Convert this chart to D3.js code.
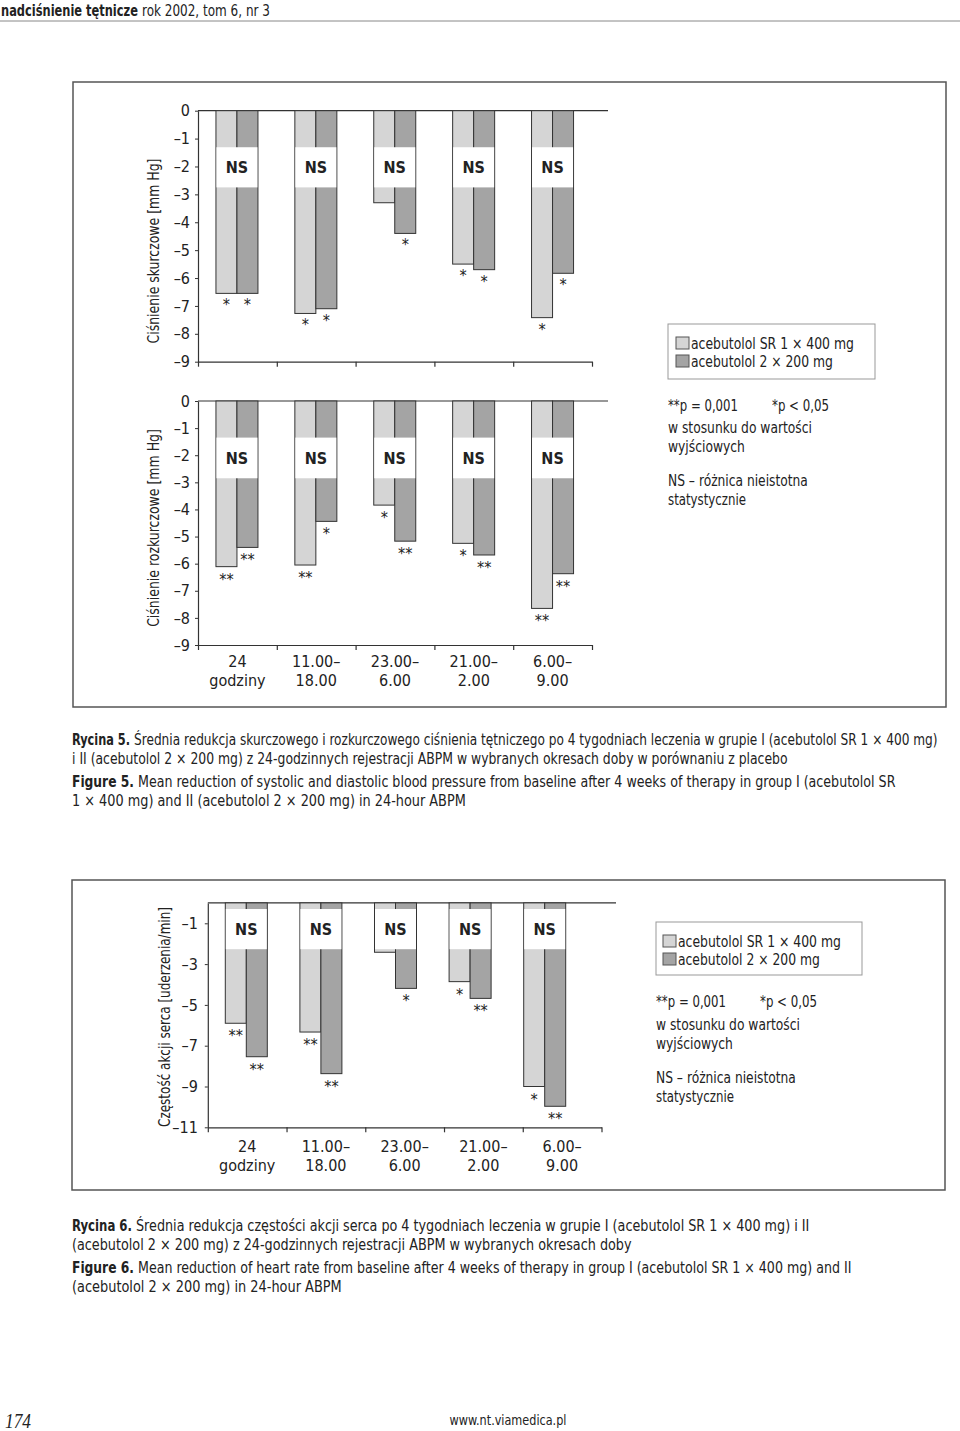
<!DOCTYPE html>
<html>
<head>
<meta charset="utf-8">
<script src="https://cdn.jsdelivr.net/npm/d3@7"></script>
<style>
  body { margin: 0; background: #fff; }
  svg text { font-family: 'Liberation Sans Narrow', 'DejaVu Sans Condensed', 'Liberation Sans', sans-serif; fill: #222; }
</style>
</head>
<body>
<div id="page"></div>
<script>
// categories (two lines each) and series
var categories = [["24", "godziny"], ["11.00–", "18.00"], ["23.00–", "6.00"], ["21.00–", "2.00"], ["6.00–", "9.00"]];
var seriesNames = ["acebutolol SR 1 × 400 mg", "acebutolol 2 × 200 mg"];

// Rycina 5 - skurczowe
var systolicSR = [-6.55, -7.27, -3.3, -5.5, -7.42];
var systolic2x = [-6.55, -7.1, -4.4, -5.7, -5.83];
var systolicSigSR = ["*", "*", "", "*", "*"];
var systolicSig2x = ["*", "*", "*", "*", "*"];

// Rycina 5 - rozkurczowe
var diastolicSR = [-6.11, -6.05, -3.84, -5.25, -7.65];
var diastolic2x = [-5.4, -4.44, -5.17, -5.68, -6.37];
var diastolicSigSR = ["**", "**", "*", "*", "**"];
var diastolicSig2x = ["**", "*", "**", "**", "**"];

// Rycina 6 - czestosc akcji serca
var heartSR = [-5.9, -6.33, -2.42, -3.86, -9.0];
var heart2x = [-7.54, -8.37, -4.19, -4.68, -9.97];
var heartSigSR = ["**", "**", "", "*", "*"];
var heartSig2x = ["**", "**", "*", "**", "**"];

var bpTicks = [0, -1, -2, -3, -4, -5, -6, -7, -8, -9];
var hrTicks = [-1, -3, -5, -7, -9, -11];

var colors = ["#d5d5d5", "#a4a4a4"];

var svg = d3.select("#page").append("svg").attr("width", 960).attr("height", 1431);

// squeeze a text horizontally to a given width (the print font is condensed)
function squeeze(t, x, y, width, extra) {
  t.attr("x", 0).attr("y", 0);
  var w = t.node().getComputedTextLength();
  t.attr("transform", "translate(" + x + "," + y + ")" + (extra || "") + " scale(" + (width / w) + ",1)");
  return t;
}

function line(x, y, size, txt, width, bold) {
  var t = svg.append("text").style("font-size", size + "px").text(txt);
  if (bold) t.style("font-weight", "bold");
  return squeeze(t, x, y, width);
}

// bold lead + regular rest
function twoPart(x, yb, size, bold, boldLen, rest, totalLen) {
  var lead = 0;
  if (bold) {
    line(x, yb, size, bold, boldLen, true);
    lead = boldLen + 4;
  }
  line(x + lead, yb, size, rest, totalLen - lead, false);
}

// header
twoPart(1, 16, 16, "nadciśnienie tętnicze", 137, "rok 2002, tom 6, nr 3", 269);
svg.append("line").attr("x1", 0).attr("x2", 960).attr("y1", 21).attr("y2", 21)
  .attr("stroke", "#888").attr("stroke-width", 1);

// frames
svg.append("rect").attr("x", 73).attr("y", 82).attr("width", 873).attr("height", 625)
  .attr("fill", "none").attr("stroke", "#555").attr("stroke-width", 1.5);
svg.append("rect").attr("x", 72).attr("y", 880).attr("width", 873).attr("height", 310)
  .attr("fill", "none").attr("stroke", "#555").attr("stroke-width", 1.5);

function minusFmt(d) { return d === 0 ? "0" : "–" + Math.abs(d); }

function drawPanel(p) {
  var y = d3.scaleLinear().domain(p.yDomain).range(p.yRange);
  var x = d3.scaleBand().domain(d3.range(categories.length)).range(p.barRange);
  var xs = d3.scaleBand().domain([0, 1]).range([x.bandwidth() / 2 - p.barW, x.bandwidth() / 2 + p.barW]);
  var xl = d3.scaleBand().domain(d3.range(categories.length)).range(p.axisRange);
  var g = svg.append("g");

  // zero line across the top
  g.append("line").attr("x1", p.axisRange[0]).attr("x2", p.zeroEnd)
    .attr("y1", y(0)).attr("y2", y(0)).attr("stroke", "#333").attr("stroke-width", 1.2);

  var groups = g.selectAll(".grp").data(d3.range(categories.length)).enter().append("g")
    .attr("transform", function(i) { return "translate(" + x(i) + ",0)"; });

  var rows = function(i) {
    return [{s: 0, v: p.sr[i], sig: p.sigSR[i]}, {s: 1, v: p.x2[i], sig: p.sig2x[i]}];
  };

  groups.selectAll("rect.bar").data(rows).enter().append("rect")
    .attr("class", "bar")
    .attr("x", function(d) { return xs(d.s); })
    .attr("width", xs.bandwidth())
    .attr("y", y(0))
    .attr("height", function(d) { return y(d.v) - y(0); })
    .attr("fill", function(d) { return colors[d.s]; })
    .attr("stroke", "#333").attr("stroke-width", 1);

  // white NS box over the bars
  groups.append("rect")
    .attr("x", xs(0) + 0.5).attr("width", xs.bandwidth() * 2 - 1)
    .attr("y", y(p.nsBox[0])).attr("height", y(p.nsBox[1]) - y(p.nsBox[0]))
    .attr("fill", "#fff");
  groups.append("text").text("NS")
    .attr("x", x.bandwidth() / 2)
    .attr("y", (y(p.nsBox[0]) + y(p.nsBox[1])) / 2)
    .attr("dy", "0.36em")
    .attr("text-anchor", "middle")
    .style("font-weight", "bold").style("font-size", "16px");

  // significance stars
  groups.selectAll("text.sig").data(rows).enter().append("text")
    .attr("class", "sig")
    .attr("x", function(d) { return xs(d.s) + xs.bandwidth() / 2; })
    .attr("y", function(d) { return y(d.v) + p.starDy; })
    .attr("text-anchor", "middle")
    .style("font-size", "16px")
    .text(function(d) { return d.sig; });

  // y axis
  var yAxis = d3.axisLeft(y).tickValues(p.ticks).tickSize(3).tickSizeOuter(0)
    .tickPadding(p.tickPad).tickFormat(minusFmt);
  var ya = g.append("g").attr("transform", "translate(" + p.axisRange[0] + ",0)").call(yAxis);
  ya.attr("font-family", null).attr("font-size", null);
  ya.select(".domain").attr("stroke", "#333").attr("stroke-width", 1.2);
  ya.selectAll(".tick line").attr("stroke", "#333");
  ya.selectAll(".tick text").style("font-size", "16px").attr("fill", "#222");

  // x axis: ticks at category boundaries
  var xb = d3.scaleLinear().domain([0, categories.length]).range(p.axisRange);
  var xAxis = d3.axisBottom(xb).ticks(categories.length).tickSize(5).tickSizeOuter(0).tickFormat("");
  var xa = g.append("g").attr("transform", "translate(0," + y(p.yDomain[1]) + ")").call(xAxis);
  xa.select(".domain").attr("stroke", "#333").attr("stroke-width", 1.2);
  xa.selectAll(".tick line").attr("stroke", "#333").attr("stroke-width", 1.2);

  if (p.showLabels) {
    categories.forEach(function(c, i) {
      c.forEach(function(txt, k) {
        g.append("text").attr("x", xl(i) + xl.bandwidth() / 2).attr("y", p.labelY[k])
          .attr("text-anchor", "middle").style("font-size", "16px").text(txt);
      });
    });
  }

  // y axis title
  var t = g.append("text")
    .attr("text-anchor", "middle").attr("dy", "0.35em")
    .style("font-size", p.title.size + "px")
    .text(p.title.text);
  squeeze(t, p.title.x, p.title.y, p.title.len, " rotate(-90)");
}

drawPanel({
  yDomain: [0, -9], yRange: [110.7, 361.7], ticks: bpTicks, tickPad: 5,
  barRange: [197.5, 592], axisRange: [198, 592], zeroEnd: 608, barW: 21,
  sr: systolicSR, x2: systolic2x, sigSR: systolicSigSR, sig2x: systolicSig2x,
  nsBox: [-1.31, -2.75], starDy: 17, showLabels: false,
  title: {text: "Ciśnienie skurczowe [mm Hg]", x: 153.5, y: 251, len: 185, size: 16}
});

drawPanel({
  yDomain: [0, -9], yRange: [401, 645], ticks: bpTicks, tickPad: 5,
  barRange: [197.5, 592], axisRange: [198, 592], zeroEnd: 608, barW: 21,
  sr: diastolicSR, x2: diastolic2x, sigSR: diastolicSigSR, sig2x: diastolicSig2x,
  nsBox: [-1.35, -2.85], starDy: 18, showLabels: true, labelY: [667, 686],
  title: {text: "Ciśnienie rozkurczowe [mm Hg]", x: 153.5, y: 528, len: 198, size: 16}
});

drawPanel({
  yDomain: [0, -11], yRange: [902.9, 1127.3], ticks: hrTicks, tickPad: 7,
  barRange: [209, 582], axisRange: [207.8, 601.5], zeroEnd: 616, barW: 21,
  sr: heartSR, x2: heart2x, sigSR: heartSigSR, sig2x: heartSig2x,
  nsBox: [-0.3, -2.27], starDy: 18, showLabels: true, labelY: [1152, 1171],
  title: {text: "Częstość akcji serca [uderzenia/min]", x: 164.4, y: 1017, len: 220, size: 15}
});

// legends and notes
var legendWidths = [163, 142];
function drawLegend(bx, by, bw, bh, tx, base) {
  svg.append("rect").attr("x", bx).attr("y", by).attr("width", bw).attr("height", bh)
    .attr("fill", "#fff").attr("stroke", "#999").attr("stroke-width", 1);
  seriesNames.forEach(function(name, i) {
    svg.append("rect").attr("x", tx - 15).attr("y", base[i] - 12).attr("width", 13).attr("height", 12)
      .attr("fill", colors[i]).attr("stroke", "#555").attr("stroke-width", 1);
    line(tx, base[i], 15, name, legendWidths[i]);
  });
}

var noteLines = ["w stosunku do wartości", "wyjściowych", "NS – różnica nieistotna", "statystycznie"];
var noteWidths = [144, 77, 140, 78];

function drawNotes(x0, pBase, offsets, starX) {
  line(x0, pBase, 15, "**p = 0,001", 70);
  line(starX, pBase, 15, "*p < 0,05", 57);
  noteLines.forEach(function(t, i) {
    line(x0, pBase + offsets[i], 15, t, noteWidths[i]);
  });
}

drawLegend(668, 324, 207, 55, 691, [349, 367]);
drawNotes(668, 411, [22, 41, 75, 94], 772);
drawLegend(656, 922, 206, 53, 678, [947, 965]);
drawNotes(656, 1007, [23, 42, 76, 95], 760);

// captions
twoPart(72, 745, 15, "Rycina 5.", 58, "Średnia redukcja skurczowego i rozkurczowego ciśnienia tętniczego po 4 tygodniach leczenia w grupie I (acebutolol SR 1 × 400 mg)", 866);
twoPart(72, 764, 15, null, 0, "i II (acebutolol 2 × 200 mg) z 24-godzinnych rejestracji ABPM w wybranych okresach doby w porównaniu z placebo", 716);
twoPart(72, 787, 15, "Figure 5.", 62, "Mean reduction of systolic and diastolic blood pressure from baseline after 4 weeks of therapy in group I (acebutolol SR", 824);
twoPart(72, 806, 15, null, 0, "1 × 400 mg) and II (acebutolol 2 × 200 mg) in 24-hour ABPM", 394);

twoPart(72, 1231, 15, "Rycina 6.", 60, "Średnia redukcja częstości akcji serca po 4 tygodniach leczenia w grupie I (acebutolol SR 1 × 400 mg) i II", 738);
twoPart(72, 1250, 15, null, 0, "(acebutolol 2 × 200 mg) z 24-godzinnych rejestracji ABPM w wybranych okresach doby", 560);
twoPart(72, 1273, 15, "Figure 6.", 62, "Mean reduction of heart rate from baseline after 4 weeks of therapy in group I (acebutolol SR 1 × 400 mg) and II", 780);
twoPart(72, 1292, 15, null, 0, "(acebutolol 2 × 200 mg) in 24-hour ABPM", 270);

// footer
var pg = svg.append("text").style("font-size", "22px")
  .style("font-family", "'Liberation Serif', serif").style("font-style", "italic").text("174");
squeeze(pg, 5, 1428, 26);
var url = svg.append("text").attr("text-anchor", "middle").style("font-size", "14px").text("www.nt.viamedica.pl");
squeeze(url, 508, 1425, 117);
</script>
</body>
</html>
